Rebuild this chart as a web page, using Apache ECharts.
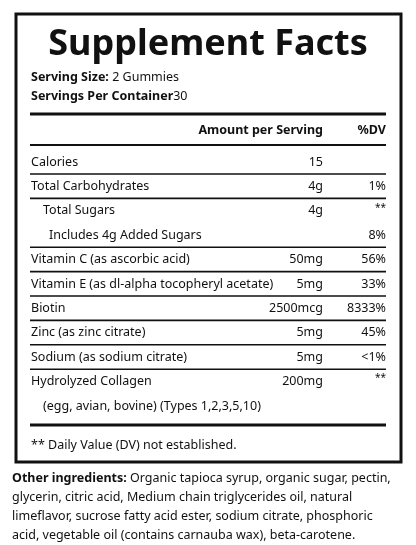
<!DOCTYPE html><html><head><meta charset="utf-8">
<script src="https://cdn.jsdelivr.net/npm/echarts@6/dist/echarts.min.js"></script>
<style>html,body{margin:0;padding:0;background:#fff}#c{width:416px;height:545px}</style></head><body><div id="c"></div>
<script>
const title = "Supplement Facts";
const servingSize = "2 Gummies";
const servingsPerContainer = "30";
const rowNames = ["Calories","Total Carbohydrates","Total Sugars","Includes 4g Added Sugars","Vitamin C (as ascorbic acid)","Vitamin E (as dl-alpha tocopheryl acetate)","Biotin","Zinc (as zinc citrate)","Sodium (as sodium citrate)","Hydrolyzed Collagen","(egg, avian, bovine) (Types 1,2,3,5,10)"];
const rowAmounts = ["15","4g","4g","","50mg","5mg","2500mcg","5mg","5mg","200mg",""];
const rowDV = ["","1%","**","8%","56%","33%","8333%","45%","<1%","**",""];
const rowIndent = [0,0,1,2,0,0,0,0,0,0,1];
const rowLineBelow = [1,1,0,1,1,1,1,1,1,0,0];
const footnote = "** Daily Value (DV) not established.";
const otherLabel = "Other ingredients:";
const otherLines = [" Organic tapioca syrup, organic sugar, pectin,","glycerin, citric acid, Medium chain triglycerides oil, natural","limeflavor, sucrose fatty acid ester, sodium citrate, phosphoric","acid, vegetable oil (contains carnauba wax), beta-carotene."];

const F = "'Noto Sans', sans-serif";
const g = [];
const txt = (x,y,t,o={}) => g.push({type:'text',x,y,style:Object.assign({text:t,font:(o.w||'normal')+' '+(o.s||12.5)+'px '+F,fill:'#111',textAlign:o.a||'left',textVerticalAlign:'middle'},o.st||{})});
const line = (y,w) => g.push({type:'line',shape:{x1:30,y1:y,x2:386,y2:y},style:{stroke:'#111',lineWidth:w}});
g.push({type:'rect',shape:{x:16,y:14,width:385,height:448},style:{fill:'none',stroke:'#111',lineWidth:3}});
txt(208,45,title,{w:'bold',s:36,a:'center',st:{font:"bold 36px 'Noto Sans', sans-serif"}});
g.push({type:'text',x:31,y:77,style:{rich:{b:{font:'bold 12.5px '+F,fill:'#111'},n:{font:'12.5px '+F,fill:'#111'}},text:'{b|Serving Size:} {n|'+servingSize+'}',textVerticalAlign:'middle'}});
g.push({type:'text',x:31,y:96,style:{rich:{b:{font:'bold 12.5px '+F,fill:'#111'},n:{font:'12.5px '+F,fill:'#111'}},text:'{b|Servings Per Container}{n|'+servingsPerContainer+'}',textVerticalAlign:'middle'}});
line(114,3);
txt(323,130,"Amount per Serving",{w:'bold',a:'right'});
txt(386,130,"%DV",{w:'bold',a:'right'});
line(145,2);
const y0=162, step=24.4;
rowNames.forEach((n,i)=>{
  const y=y0+i*step;
  txt(31+rowIndent[i]*[0,12,18][rowIndent[i]]/ (rowIndent[i]||1),y,n);
  if(rowAmounts[i]) txt(323,y,rowAmounts[i],{a:'right'});
  if(rowDV[i]) txt(386,y,rowDV[i],{a:'right',s:rowDV[i]=='**'?10:12.5,st:rowDV[i]=='**'?{textVerticalAlign:'top'}:{}});
  if(rowLineBelow[i]) line(y+12,1.6);
});
// fix ** vertical placement
g.forEach(e=>{if(e.style&&e.style.text==='**'){e.y-=8;}});
line(425,3);
txt(31,445,footnote);
g.push({type:'text',x:12,y:478,style:{rich:{b:{font:'bold 12.5px '+F,fill:'#111'},n:{font:'12.5px '+F,fill:'#111'}},text:'{b|'+otherLabel+'}{n|'+otherLines[0]+'}',textVerticalAlign:'middle'}});
otherLines.slice(1).forEach((l,i)=>txt(12,497+i*19,l));
const chart=echarts.init(document.getElementById('c'));
chart.setOption({graphic:{elements:g}});
</script></body></html>
